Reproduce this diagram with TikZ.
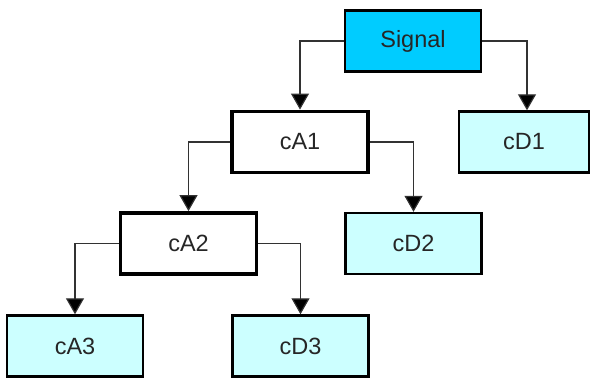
\documentclass[tikz,border=0pt]{standalone}
\usepackage{fontspec}
\setmainfont{Liberation Sans}
\usetikzlibrary{arrows.meta}
\definecolor{sigcyan}{RGB}{0,204,255}
\definecolor{leafcyan}{RGB}{204,255,255}
\definecolor{linegray}{RGB}{50,50,50}
\begin{document}
\begin{tikzpicture}[x=1pt,y=-1pt,
  box/.style={rectangle,minimum width=136pt,minimum height=61pt,inner sep=0pt,
    font=\fontsize{23.5}{27}\selectfont,text=black!85},
  sigbox/.style={box,draw=black,line width=2.8pt,fill=sigcyan},
  approx/.style={box,draw=black,line width=3.8pt,fill=white},
  leaf/.style={box,draw=black,line width=2.4pt,fill=leafcyan},
  link/.style={draw=linegray,line width=1.2pt,-{Triangle[width=18pt,length=16pt,fill=black]}}]
\useasboundingbox (0,0) rectangle (590,378);
\node[sigbox] (sig) at (413,41) {Signal};
\node[approx] (ca1) at (300,142) {cA1};
\node[leaf,minimum width=130pt] (cd1) at (524,142) {cD1};
\node[approx] (ca2) at (188.5,243.5) {cA2};
\node[leaf] (cd2) at (413.5,243.5) {cD2};
\node[leaf] (ca3) at (75,346) {cA3};
\node[leaf] (cd3) at (300.5,346) {cD3};
\coordinate (j1) at (527,41);
\draw[link] (sig.west) -| (ca1.north);
\draw[link] (sig.east) -- (j1) -- (j1 |- cd1.north);
\draw[link] (ca1.west) -| (ca2.north);
\draw[link] (ca1.east) -| (cd2.north);
\draw[link] (ca2.west) -| (ca3.north);
\draw[link] (ca2.east) -| (cd3.north);
\end{tikzpicture}
\end{document}
